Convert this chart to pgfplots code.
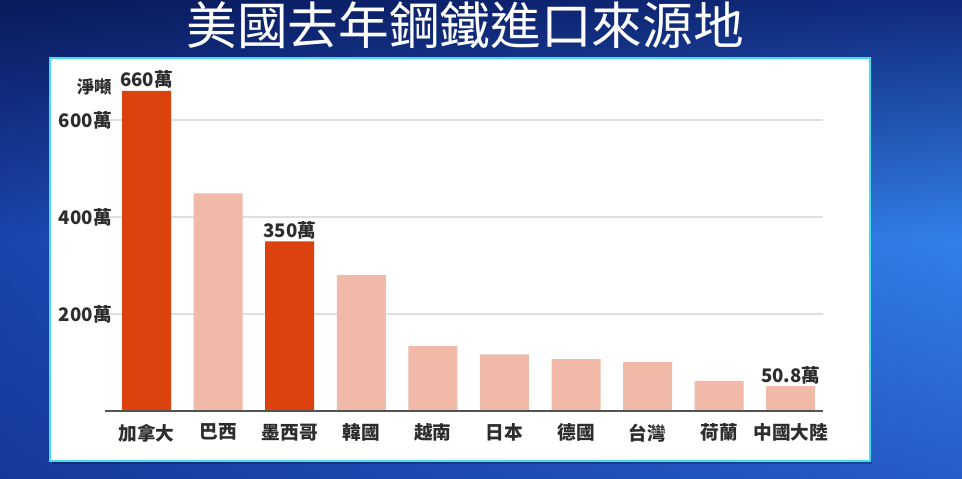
\documentclass[border=0pt]{standalone}
\usepackage{fontspec}
\setmainfont{Noto Sans CJK TC}
\usepackage{pgfplots}
\pgfplotsset{compat=1.18}
\usetikzlibrary{shadings}

\definecolor{hot}{RGB}{220,66,14}
\definecolor{pale}{RGB}{241,186,168}
\definecolor{ink}{RGB}{45,45,45}
\definecolor{bgTL}{RGB}{10,26,92}
\definecolor{bgTR}{RGB}{16,42,125}
\definecolor{bgML}{RGB}{26,68,172}
\definecolor{bgMR}{RGB}{50,128,232}
\definecolor{bgBL}{RGB}{22,56,155}
\definecolor{bgBR}{RGB}{38,92,200}
\definecolor{rim}{RGB}{70,220,240}

\begin{document}
\begin{tikzpicture}[x=0.75pt,y=0.75pt]
\path[use as bounding box] (0,0) rectangle (962,478);
\shade[upper left=bgTL, upper right=bgTR, lower left=bgML, lower right=bgMR]
  (0,239) rectangle (962,478);
\shade[upper left=bgML, upper right=bgMR, lower left=bgBL, lower right=bgBR]
  (0,-0.5) rectangle (962,239.5);

% title
\node[text=white, font=\fontsize{38}{40}\selectfont] at (465,453) {美國去年鋼鐵進口來源地};

% white panel with a faint shadow
\fill[black, opacity=0.25] (52,14) rectangle (872,18);
\draw[fill=white, draw=rim, line width=1.5pt] (50,17) rectangle (870,420);

\begin{axis}[
  at={(78.75pt,50.25pt)}, anchor=south west,
  scale only axis,
  width=538.5pt, height=254.6pt,
  xmin=-0.58, xmax=9.45,
  ymin=0, ymax=700,
  ybar, bar width=36.75pt,
  clip=false,
  axis line style={draw=none},
  major tick length=0pt,
  ytick={200,400,600},
  yticklabels={200萬,400萬,600萬},
  xtick={0,...,9},
  xticklabels={加拿大,巴西,墨西哥,韓國,越南,日本,德國,台灣,荷蘭,中國大陸},
  ymajorgrids,
  grid style={gray!25, line width=0.8pt},
  yticklabel style={font=\bfseries\fontsize{14}{16}\selectfont, text=ink, inner sep=0pt, xshift=5.25pt},
  xticklabel style={font=\bfseries\fontsize{14}{16}\selectfont, text=ink, inner sep=0pt, yshift=-9.5pt},
  every node near coord/.append style={font=\bfseries\fontsize{14}{16}\selectfont, text=ink, inner sep=1pt, yshift=0.5pt},
]
\addplot[fill=hot, draw=none, bar shift=0pt, nodes near coords, point meta=explicit symbolic]
  coordinates {(0,660)[660萬] (2,350)[350萬]};
\addplot[fill=pale, draw=none, bar shift=0pt]
  coordinates {(1,449) (3,280) (4,134) (5,117) (6,107) (7,101) (8,62)};
\addplot[fill=pale, draw=none, bar shift=0pt, nodes near coords, point meta=explicit symbolic]
  coordinates {(9,50.8)[50.8萬]};
\draw[color=gray!65!black, line width=1pt] (axis cs:-0.58,0) -- (axis cs:9.45,0);
\node[anchor=east, inner sep=0pt, xshift=5.25pt, text=ink, font=\bfseries\fontsize{13}{15}\selectfont]
  at (axis cs:-0.58,668) {淨噸};
\end{axis}
\end{tikzpicture}
\end{document}
